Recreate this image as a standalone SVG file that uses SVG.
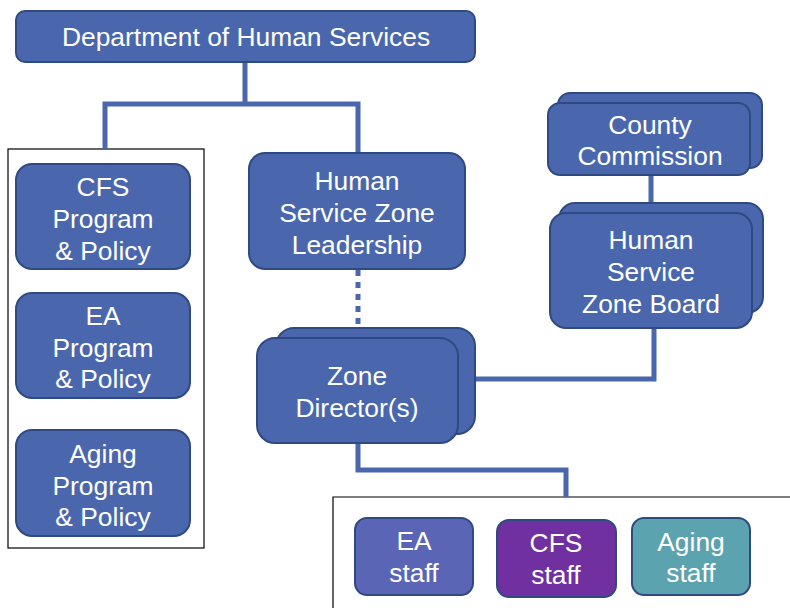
<svg xmlns="http://www.w3.org/2000/svg" width="790" height="608" viewBox="0 0 790 608">
<style>
.n{fill:#4A67AD;stroke:#2F4A82;stroke-width:2}
.t{font-family:"Liberation Sans",Arial,sans-serif;font-size:26.4px;fill:#fff;text-anchor:middle}
.c{fill:none;stroke:#4A67AD;stroke-width:5}
.f{fill:none;stroke:#000;stroke-width:1.2}
</style>
<rect x="0" y="0" width="790" height="608" fill="#fff"/>
<g id="containers">
<rect class="f" x="8" y="149" width="196" height="399"/>
<path class="f" d="M333 608 V497 H792"/>
</g>
<g id="connectors">
<path class="c" d="M245 62 V104 H105 V149 M245 104 H358 V153"/>
<path class="c" d="M358 270 V326" stroke-dasharray="6,6"/>
<path class="c" d="M358 443 V470 H566 V497"/>
<path class="c" d="M476 379 H654 V328"/>
<path class="c" d="M651 175 V213" stroke-width="3"/>
</g>
<g id="dhs">
<rect class="n" x="16" y="11" width="459" height="51" rx="9"/>
<text class="t" x="246" y="46">Department of Human Services</text>
</g>
<g id="cfs-policy">
<rect class="n" x="16" y="164" width="174" height="105" rx="16"/>
<text class="t" x="103" y="196">CFS</text>
<text class="t" x="103" y="228">Program</text>
<text class="t" x="103" y="260">&amp; Policy</text>
</g>
<g id="ea-policy">
<rect class="n" x="16" y="293" width="174" height="105" rx="16"/>
<text class="t" x="103" y="325">EA</text>
<text class="t" x="103" y="357">Program</text>
<text class="t" x="103" y="388">&amp; Policy</text>
</g>
<g id="aging-policy">
<rect class="n" x="16" y="430" width="174" height="106" rx="16"/>
<text class="t" x="103" y="463">Aging</text>
<text class="t" x="103" y="495">Program</text>
<text class="t" x="103" y="526">&amp; Policy</text>
</g>
<g id="hszl">
<rect class="n" x="249" y="153" width="216" height="116" rx="16"/>
<text class="t" x="357" y="190">Human</text>
<text class="t" x="357" y="222">Service Zone</text>
<text class="t" x="357" y="254">Leadership</text>
</g>
<g id="zone-director">
<rect class="n" x="276" y="328" width="199" height="106" rx="18"/>
<rect class="n" x="257" y="338" width="201" height="105" rx="18"/>
<text class="t" x="357" y="385">Zone</text>
<text class="t" x="357" y="417">Director(s)</text>
</g>
<g id="county-commission">
<rect class="n" x="558" y="93" width="204" height="75" rx="12"/>
<rect class="n" x="548" y="103" width="202" height="72" rx="12"/>
<text class="t" x="650" y="134">County</text>
<text class="t" x="650" y="165">Commission</text>
</g>
<g id="hszb">
<rect class="n" x="559" y="203" width="204" height="110" rx="16"/>
<rect class="n" x="550" y="213" width="202" height="115" rx="16"/>
<text class="t" x="651" y="249">Human</text>
<text class="t" x="651" y="281">Service</text>
<text class="t" x="651" y="313">Zone Board</text>
</g>
<g id="ea-staff">
<rect x="355" y="518" width="118" height="77" rx="12" fill="#5B65B5" stroke="#2F4A82" stroke-width="2"/>
<text class="t" x="414" y="550">EA</text>
<text class="t" x="414" y="582">staff</text>
</g>
<g id="cfs-staff">
<rect x="497" y="520" width="119" height="77" rx="12" fill="#7030A0" stroke="#2F4A82" stroke-width="2"/>
<text class="t" x="556" y="552">CFS</text>
<text class="t" x="556" y="584">staff</text>
</g>
<g id="aging-staff">
<rect x="632" y="518" width="118" height="77" rx="12" fill="#5BA3AE" stroke="#2F4A82" stroke-width="2"/>
<text class="t" x="691" y="551">Aging</text>
<text class="t" x="691" y="582">staff</text>
</g>
</svg>
